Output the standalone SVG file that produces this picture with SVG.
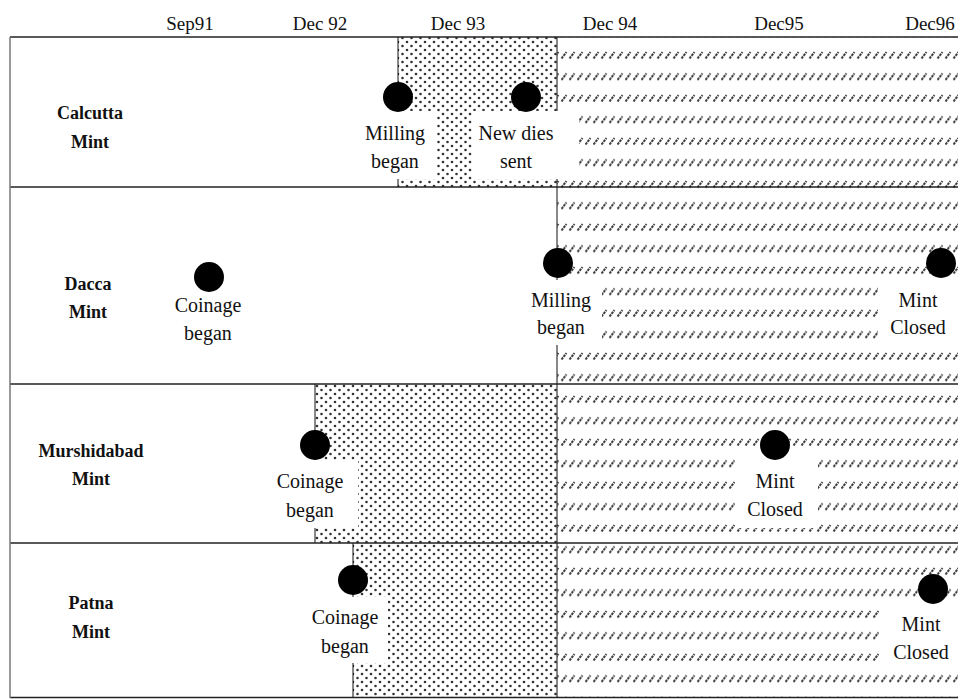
<svg xmlns="http://www.w3.org/2000/svg" width="958" height="699" viewBox="0 0 958 699" font-family="'Liberation Serif', 'DejaVu Serif', serif">
<style>
.hdr{font-family:'Liberation Serif','DejaVu Serif',serif;font-size:19px;fill:#111;text-anchor:middle}
.row{font-family:'Liberation Serif','DejaVu Serif',serif;font-size:18px;font-weight:bold;fill:#111;text-anchor:middle}
.lbl{font-family:'Liberation Serif','DejaVu Serif',serif;font-size:20px;fill:#111;text-anchor:middle}
.dot{fill:url(#dots)}
.hatch{fill:url(#hatch)}
.box{fill:#fff}
.ev{fill:#000}
.sep{stroke:#222;stroke-width:1.3;fill:none}
.edge{stroke:#111;stroke-width:1;fill:none}
</style>
<defs>
<pattern id="dots" width="9" height="8" patternUnits="userSpaceOnUse">
<circle cx="2" cy="2" r="1.3" fill="#333"/>
<circle cx="6.5" cy="6" r="1.3" fill="#333"/>
</pattern>
<pattern id="hatch" width="8" height="21.5" patternUnits="userSpaceOnUse" y="6">
<line x1="1.5" y1="9.5" x2="6.5" y2="3" stroke="#333" stroke-width="2" stroke-dasharray="2.6 0.8"/>
</pattern>
</defs>

<g id="header">
<text class="hdr" x="190" y="30">Sep91</text>
<text class="hdr" x="320" y="30">Dec 92</text>
<text class="hdr" x="458" y="30">Dec 93</text>
<text class="hdr" x="610" y="30">Dec 94</text>
<text class="hdr" x="779" y="30">Dec95</text>
<text class="hdr" x="930" y="30">Dec96</text>
</g>

<g id="calcutta">
<rect class="dot" x="398" y="37" width="159" height="150"/>
<rect class="hatch" x="557" y="37" width="401" height="150"/>
<line class="edge" x1="398" y1="37" x2="398" y2="187"/>
<line class="edge" x1="557" y1="37" x2="557" y2="187"/>
<text class="row" x="90" y="119">Calcutta</text>
<text class="row" x="90" y="148">Mint</text>
<rect class="box" x="358" y="111" width="79" height="68"/>
<circle class="ev" cx="398" cy="97" r="15"/>
<text class="lbl" x="395" y="140">Milling</text>
<text class="lbl" x="395" y="168">began</text>
<rect class="box" x="472" y="111" width="107" height="68"/>
<circle class="ev" cx="526" cy="97" r="15"/>
<text class="lbl" x="516" y="140">New dies</text>
<text class="lbl" x="516" y="168">sent</text>
</g>

<g id="dacca">
<rect class="hatch" x="557" y="187" width="401" height="197"/>
<line class="edge" x1="557" y1="187" x2="557" y2="384"/>
<text class="row" x="88" y="290">Dacca</text>
<text class="row" x="88" y="318">Mint</text>
<circle class="ev" cx="209" cy="277" r="15"/>
<text class="lbl" x="208" y="312">Coinage</text>
<text class="lbl" x="208" y="340">began</text>
<rect class="box" x="520" y="280" width="82" height="65"/>
<circle class="ev" cx="558" cy="263" r="15"/>
<text class="lbl" x="561" y="307">Milling</text>
<text class="lbl" x="561" y="334">began</text>
<rect class="box" x="878" y="280" width="80" height="65"/>
<circle class="ev" cx="941" cy="263" r="15"/>
<text class="lbl" x="918" y="307">Mint</text>
<text class="lbl" x="918" y="334">Closed</text>
</g>

<g id="murshidabad">
<rect class="dot" x="315" y="384" width="242" height="159"/>
<rect class="hatch" x="557" y="384" width="401" height="159"/>
<line class="edge" x1="315" y1="384" x2="315" y2="543"/>
<line class="edge" x1="557" y1="384" x2="557" y2="543"/>
<text class="row" x="91" y="457">Murshidabad</text>
<text class="row" x="91" y="485">Mint</text>
<rect class="box" x="268" y="460" width="90" height="68"/>
<circle class="ev" cx="315" cy="445" r="15"/>
<text class="lbl" x="310" y="488">Coinage</text>
<text class="lbl" x="310" y="517">began</text>
<rect class="box" x="735" y="459" width="83" height="69"/>
<circle class="ev" cx="775" cy="445" r="15"/>
<text class="lbl" x="775" y="488">Mint</text>
<text class="lbl" x="775" y="516">Closed</text>
</g>

<g id="patna">
<rect class="dot" x="353" y="543" width="204" height="155"/>
<rect class="hatch" x="557" y="543" width="401" height="155"/>
<line class="edge" x1="353" y1="543" x2="353" y2="698"/>
<line class="edge" x1="557" y1="543" x2="557" y2="698"/>
<text class="row" x="91" y="609">Patna</text>
<text class="row" x="91" y="638">Mint</text>
<rect class="box" x="305" y="597" width="83" height="66"/>
<circle class="ev" cx="353" cy="580" r="15"/>
<text class="lbl" x="345" y="624">Coinage</text>
<text class="lbl" x="345" y="653">began</text>
<rect class="box" x="879" y="605" width="79" height="65"/>
<circle class="ev" cx="933" cy="589" r="15"/>
<text class="lbl" x="921" y="631">Mint</text>
<text class="lbl" x="921" y="659">Closed</text>
</g>

<g id="connectors">
<line class="sep" x1="10" y1="37" x2="958" y2="37" stroke="#555"/>
<line class="sep" x1="10" y1="187" x2="958" y2="187"/>
<line class="sep" x1="10" y1="384" x2="958" y2="384"/>
<line class="sep" x1="10" y1="543" x2="958" y2="543"/>
<line class="sep" x1="10" y1="697.5" x2="958" y2="697.5"/>
<line x1="10" y1="37" x2="10" y2="698" stroke="#777" stroke-width="1.5"/>
</g>
</svg>
